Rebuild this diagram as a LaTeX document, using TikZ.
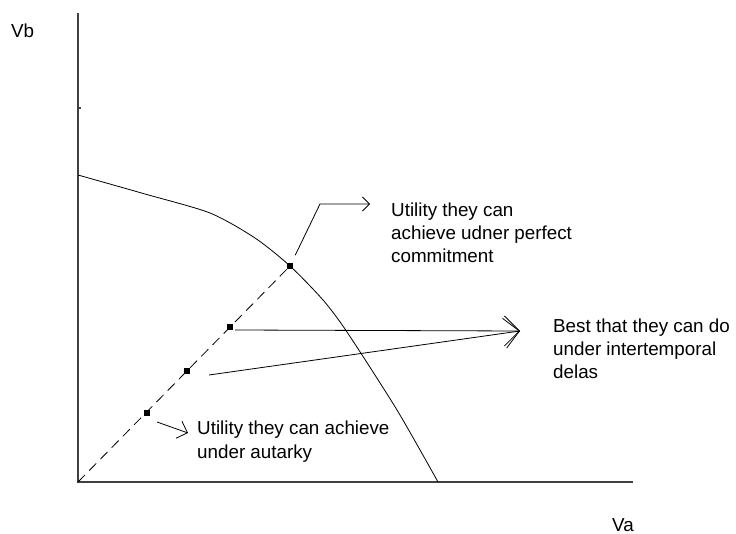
\documentclass[tikz,border=0pt]{standalone}
\usepackage{fontspec}
\setmainfont{Liberation Sans}
\usetikzlibrary{arrows.meta}

\begin{document}
\begin{tikzpicture}[x=1pt, y=-1pt, axis/.style={line width=1.3pt, draw=black!75}, frontier/.style={line width=0.8pt}, ray/.style={line width=0.8pt, dash pattern=on 10pt off 6pt}, dot/.style={fill, inner sep=0pt, minimum size=6pt}, lbl/.style={anchor=north west, inner sep=0pt, align=left, font=\fontsize{18.8}{23.3}\selectfont}, arr/.style={-{Straight Barb[length=#1]}, line width=0.8pt}, arr/.default=8pt]
\useasboundingbox (0,0) rectangle (736,534);
\coordinate (O) at (78,482);
\coordinate (ytop) at (78,13);
\coordinate (xend) at (633,482);
\draw[axis] (ytop) -- (O) -- (xend);
\draw[axis] (78,108) -- (80.5,108);
\node[lbl, anchor=base west] (vb) at (11,38) {Vb};
\node[lbl, anchor=base west] (va) at (612,531) {Va};
\draw[frontier] plot[smooth, tension=0.45] coordinates {(78,175) (145,194) (210,213) (255,238) (290,266) (323,300) (347,332) (397,410) (438,482)};
\draw[ray] (O) -- (290,266);
\node[dot] (autark) at (147,413) {};
\node[dot] (delay2) at (187,371) {};
\node[dot] (delay1) at (230,327) {};
\node[dot] (commit) at (290,266) {};
\node[lbl] (commitlbl) at (391,202.5) {Utility they can\\achieve udner perfect\\commitment};
\node[lbl] (bestlbl) at (553,318.5) {Best that they can do\\under intertemporal\\delas};
\node[lbl] (autarklbl) at (197,421) {Utility they can achieve\\under autarky};
\coordinate (bend) at (320,204);
\coordinate (committip) at (370,204);
\coordinate (besttip) at (520,331);
\coordinate (delay2out) at (209,375);
\coordinate (autarkout) at (157,422);
\coordinate (autarktip) at (188,433);
\draw[arr=7pt, shorten <=12pt] (commit.center) -- (bend) -- (committip);
\draw[arr=15pt] (delay1.east) ++(2,3) -- (besttip);
\draw[arr=15pt] (delay2out) -- (besttip);
\draw[arr=9pt] (autarkout) -- (autarktip);
\end{tikzpicture}
\end{document}
